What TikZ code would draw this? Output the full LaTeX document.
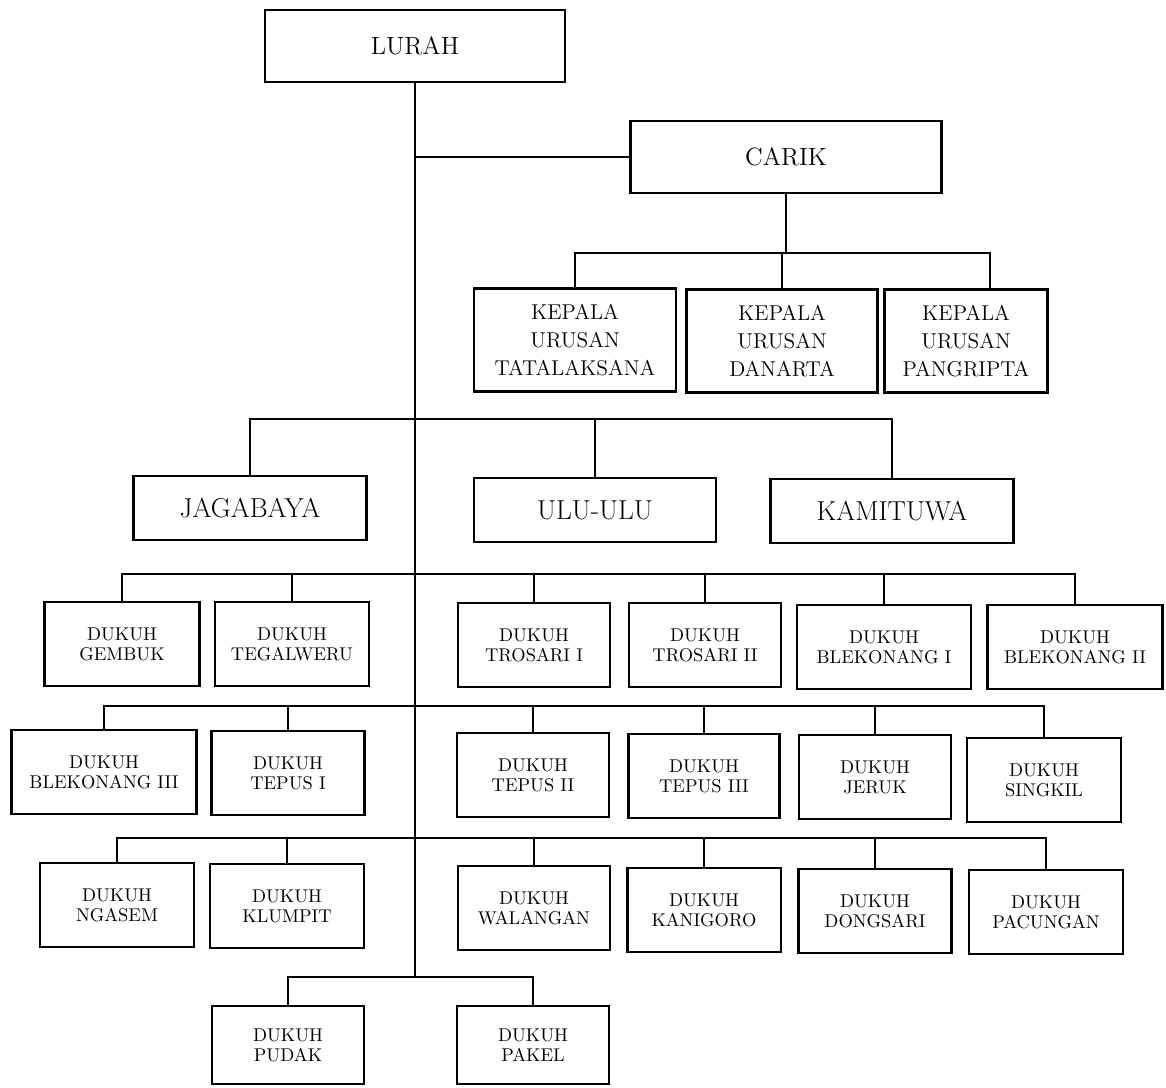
\documentclass[tikz,border=0pt]{standalone}
\usepackage{tikz}

\begin{document}
\begin{tikzpicture}[x=0.02cm, y=-0.02cm,
    kotak/.style={draw, line width=1.4pt, align=center, inner sep=0pt},
    garis/.style={line width=0.9pt},
    pimpin/.style={kotak, minimum height=1.43cm, font=\fontsize{14.2}{16}\selectfont},
    kaur/.style={kotak, minimum height=2.06cm, font=\fontsize{12.2}{16}\selectfont},
    kamit/.style={kotak, minimum height=1.28cm, font=\fontsize{15.6}{18}\selectfont},
    dukuh/.style={kotak, minimum height=1.68cm, font=\fontsize{10.5}{11.5}\selectfont}]

    \useasboundingbox (0,0) rectangle (1166,1088);

    % pimpinan
    \node[pimpin, minimum width=6cm] (lurah) at (415,46) {LURAH};
    \node[pimpin, minimum width=6.22cm] (carik) at (786,157) {CARIK};

    \node[kaur, minimum width=4.04cm] (tata) at (575,340) {KEPALA\\URUSAN\\TATALAKSANA};
    \node[kaur, minimum width=3.82cm] (dana) at (782,341) {KEPALA\\URUSAN\\DANARTA};
    \node[kaur, minimum width=3.26cm] (prip) at (966,341) {KEPALA\\URUSAN\\PANGRIPTA};

    \node[kamit, minimum width=4.66cm] (jaga) at (250,508) {JAGABAYA};
    \node[kamit, minimum width=4.84cm] (ulu) at (595,510) {ULU-ULU};
    \node[kamit, minimum width=4.86cm] (kami) at (892,511) {KAMITUWA};

    % dukuh baris 1
    \node[dukuh, minimum width=3.1cm] (gembuk) at (122,644) {DUKUH\\GEMBUK};
    \node[dukuh, minimum width=3.08cm] (tegal) at (292,644) {DUKUH\\TEGALWERU};
    \node[dukuh, minimum width=3.04cm] (trosA) at (534,645) {DUKUH\\TROSARI I};
    \node[dukuh, minimum width=3.04cm] (trosB) at (705,645) {DUKUH\\TROSARI II};
    \node[dukuh, minimum width=3.48cm] (blekA) at (884,647) {DUKUH\\BLEKONANG I};
    \node[dukuh, minimum width=3.5cm] (blekB) at (1075,647) {DUKUH\\BLEKONANG II};

    % dukuh baris 2
    \node[dukuh, minimum width=3.7cm] (blekC) at (104,772) {DUKUH\\BLEKONANG III};
    \node[dukuh, minimum width=3.06cm] (tepA) at (288,773) {DUKUH\\TEPUS I};
    \node[dukuh, minimum width=3.04cm] (tepB) at (533,775) {DUKUH\\TEPUS II};
    \node[dukuh, minimum width=3.02cm] (tepC) at (704,776) {DUKUH\\TEPUS III};
    \node[dukuh, minimum width=3.04cm] (jeruk) at (875,777) {DUKUH\\JERUK};
    \node[dukuh, minimum width=3.08cm] (singkil) at (1044,780) {DUKUH\\SINGKIL};

    % dukuh baris 3
    \node[dukuh, minimum width=3.08cm] (ngasem) at (117,905) {DUKUH\\NGASEM};
    \node[dukuh, minimum width=3.08cm] (klumpit) at (287,906) {DUKUH\\KLUMPIT};
    \node[dukuh, minimum width=3.04cm] (walang) at (534,908) {DUKUH\\WALANGAN};
    \node[dukuh, minimum width=3.07cm] (kanigoro) at (704,910) {DUKUH\\KANIGORO};
    \node[dukuh, minimum width=3.06cm] (dongsari) at (875,911) {DUKUH\\DONGSARI};
    \node[dukuh, minimum width=3.08cm] (pacung) at (1046,912) {DUKUH\\PACUNGAN};

    % dukuh baris 4
    \node[dukuh, minimum width=3.04cm, minimum height=1.56cm] (pudak) at (288,1045) {DUKUH\\PUDAK};
    \node[dukuh, minimum width=3.04cm, minimum height=1.56cm] (pakel) at (533,1045) {DUKUH\\PAKEL};

    % garis bantu
    \coordinate (ujung) at (415,977);
    \coordinate (busKaur) at (0,253);
    \coordinate (busKamit) at (0,419);
    \coordinate (busSatu) at (0,574);
    \coordinate (busDua) at (0,706);
    \coordinate (busTiga) at (0,838);
    \coordinate (pripX) at ([xshift=0.48cm]prip.north);

    \draw[garis] (lurah.south) -- (ujung);
    \draw[garis] (lurah.south |- carik.west) -- (carik.west);

    \draw[garis] (carik.south) -- (carik.south |- busKaur);
    \draw[garis] (tata.north) -- (tata.north |- busKaur) -- (pripX |- busKaur) -- (pripX);
    \draw[garis] (dana.north) -- (dana.north |- busKaur);

    \draw[garis] (jaga.north) -- (jaga.north |- busKamit) -- (kami.north |- busKamit) -- (kami.north);
    \draw[garis] (ulu.north) -- (ulu.north |- busKamit);

    \draw[garis] (gembuk.north) -- (gembuk.north |- busSatu) -- (blekB.north |- busSatu) -- (blekB.north);
    \foreach \d in {tegal, trosA, trosB, blekA}
        \draw[garis] (\d.north) -- (\d.north |- busSatu);

    \draw[garis] (blekC.north) -- (blekC.north |- busDua) -- (singkil.north |- busDua) -- (singkil.north);
    \foreach \d in {tepA, tepB, tepC, jeruk}
        \draw[garis] (\d.north) -- (\d.north |- busDua);

    \draw[garis] (ngasem.north) -- (ngasem.north |- busTiga) -- (pacung.north |- busTiga) -- (pacung.north);
    \foreach \d in {klumpit, walang, kanigoro, dongsari}
        \draw[garis] (\d.north) -- (\d.north |- busTiga);

    \draw[garis] (pudak.north) |- (ujung) -| (pakel.north);

\end{tikzpicture}
\end{document}
